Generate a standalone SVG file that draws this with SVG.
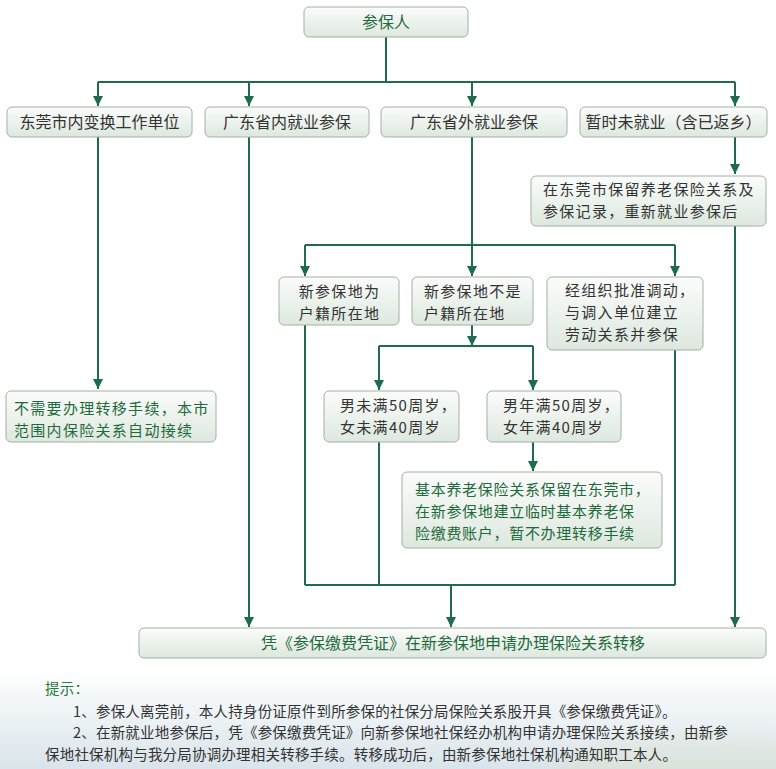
<svg xmlns="http://www.w3.org/2000/svg" width="776" height="769" viewBox="0 0 776 769">
<defs>
<linearGradient id="boxg" x1="0" y1="0" x2="0" y2="1">
<stop offset="0" stop-color="#fbfcfb"/>
<stop offset="1" stop-color="#dde8de"/>
</linearGradient>
<linearGradient id="bg" x1="0" y1="0" x2="0" y2="1">
<stop offset="0" stop-color="#ffffff"/>
<stop offset="0.87" stop-color="#ffffff"/>
<stop offset="1" stop-color="#d9e4ea"/>
</linearGradient>
<linearGradient id="hill" x1="0" y1="0" x2="0" y2="1">
<stop offset="0" stop-color="#e4e8da" stop-opacity="0.3"/>
<stop offset="1" stop-color="#c9d3b8"/>
</linearGradient>
<filter id="blur"><feGaussianBlur stdDeviation="6"/></filter>
<marker id="arr" viewBox="0 0 10 10" refX="10" refY="5" markerWidth="10" markerHeight="10" markerUnits="userSpaceOnUse" orient="auto">
<path d="M0,0 L10,5 L0,10 z" fill="#1e6b4e"/>
</marker>
<style>
.box{fill:url(#boxg);stroke:#a3b0a8;stroke-width:1}
.t{font-family:"Noto Sans CJK SC","Noto Sans",sans-serif;font-size:16px;fill:#333}
.m{font-size:15px;letter-spacing:1.3px}
.g{fill:#1f6a3c}
.c{text-anchor:middle}
.ln{fill:none;stroke:#1e6b4e;stroke-width:2}
.a{marker-end:url(#arr)}
.note{font-family:"Noto Sans CJK SC","Noto Sans",sans-serif;font-size:14.5px;letter-spacing:0.2px;fill:#333}
</style>
</defs>
<rect x="0" y="0" width="776" height="769" fill="url(#bg)"/>
<ellipse cx="700" cy="785" rx="150" ry="55" fill="url(#hill)" filter="url(#blur)"/>

<g id="connectors">
<path class="ln" d="M386,37 V82 M98,82 H735"/>
<path class="ln a" d="M98,82 V106"/>
<path class="ln a" d="M249,82 V106"/>
<path class="ln a" d="M472,82 V106"/>
<path class="ln a" d="M735,82 V106"/>
<path class="ln a" d="M98,137 V389"/>
<path class="ln a" d="M249,137 V627"/>
<path class="ln" d="M472,137 V245 M305,245 H675"/>
<path class="ln a" d="M305,245 V276"/>
<path class="ln a" d="M472,245 V276"/>
<path class="ln a" d="M675,245 V276"/>
<path class="ln a" d="M735,137 V174"/>
<path class="ln a" d="M735,226 V627"/>
<path class="ln a" d="M472,325 V346"/>
<path class="ln" d="M379,346 H533"/>
<path class="ln a" d="M379,346 V390"/>
<path class="ln a" d="M533,346 V390"/>
<path class="ln a" d="M533,442 V471"/>
<path class="ln" d="M305,325 V585 M379,442 V585 M675,350 V585 M305,585 H675"/>
<path class="ln a" d="M451,585 V627"/>
</g>

<g id="n-canbaoren">
<rect class="box" x="304" y="7" width="164" height="30" rx="5"/>
<text class="t g c" x="386" y="28">参保人</text>
</g>
<g id="n-dgsn">
<rect class="box" x="7" y="107" width="185" height="30" rx="5"/>
<text class="t c" x="99.5" y="128">东莞市内变换工作单位</text>
</g>
<g id="n-gdsn">
<rect class="box" x="205" y="107" width="164" height="30" rx="5"/>
<text class="t c" x="287" y="128">广东省内就业参保</text>
</g>
<g id="n-gdsw">
<rect class="box" x="381" y="107" width="186" height="30" rx="5"/>
<text class="t c" x="474" y="128">广东省外就业参保</text>
</g>
<g id="n-zswjy">
<rect class="box" x="580" y="107" width="187" height="30" rx="5"/>
<text class="t c" x="673.5" y="128">暂时未就业（含已返乡）</text>
</g>
<g id="n-baoliu">
<rect class="box" x="531" y="176" width="235" height="50" rx="5"/>
<text class="t m" x="543" y="195">在东莞市保留养老保险关系及</text>
<text class="t m" x="543" y="217">参保记录，重新就业参保后</text>
</g>
<g id="n-buxuyao">
<rect class="box" x="6" y="391" width="210" height="51" rx="5"/>
<text class="t m g" x="14" y="414">不需要办理转移手续，本市</text>
<text class="t m g" x="14" y="436">范围内保险关系自动接续</text>
</g>
<g id="n-huji">
<rect class="box" x="279" y="277" width="120" height="48" rx="5"/>
<text class="t m c" x="339.5" y="297">新参保地为</text>
<text class="t m c" x="339.5" y="319">户籍所在地</text>
</g>
<g id="n-fhuji">
<rect class="box" x="412" y="277" width="121" height="48" rx="5"/>
<text class="t m" x="424" y="297">新参保地不是</text>
<text class="t m" x="424" y="319">户籍所在地</text>
</g>
<g id="n-zuzhi">
<rect class="box" x="547" y="277" width="156" height="73" rx="5"/>
<text class="t m" x="565" y="296">经组织批准调动，</text>
<text class="t m" x="565" y="318">与调入单位建立</text>
<text class="t m" x="565" y="340">劳动关系并参保</text>
</g>
<g id="n-weiman">
<rect class="box" x="324" y="391" width="135" height="51" rx="5"/>
<text class="t m" x="340" y="411">男未满50周岁，</text>
<text class="t m" x="340" y="433">女未满40周岁</text>
</g>
<g id="n-nianman">
<rect class="box" x="487" y="391" width="134" height="51" rx="5"/>
<text class="t m" x="503" y="411">男年满50周岁，</text>
<text class="t m" x="503" y="433">女年满40周岁</text>
</g>
<g id="n-jiben">
<rect class="box" x="402" y="472" width="260" height="76" rx="5"/>
<text class="t m g" x="415" y="495" style="letter-spacing:0.7px">基本养老保险关系保留在东莞市，</text>
<text class="t m g" x="415" y="517" style="letter-spacing:0.7px">在新参保地建立临时基本养老保</text>
<text class="t m g" x="415" y="539" style="letter-spacing:0.7px">险缴费账户，暂不办理转移手续</text>
</g>
<g id="n-final">
<rect class="box" x="139" y="628" width="627" height="30" rx="5"/>
<text class="t g c" x="453" y="649">凭《参保缴费凭证》在新参保地申请办理保险关系转移</text>
</g>

<g id="notes">
<text class="note" x="45" y="694" style="fill:#2a7a3c">提示：</text>
<text class="note" x="73" y="717">1、参保人离莞前，本人持身份证原件到所参保的社保分局保险关系股开具《参保缴费凭证》。</text>
<text class="note" x="73" y="738">2、在新就业地参保后，凭《参保缴费凭证》向新参保地社保经办机构申请办理保险关系接续，由新参</text>
<text class="note" x="45" y="760">保地社保机构与我分局协调办理相关转移手续。转移成功后，由新参保地社保机构通知职工本人。</text>
</g>
</svg>
